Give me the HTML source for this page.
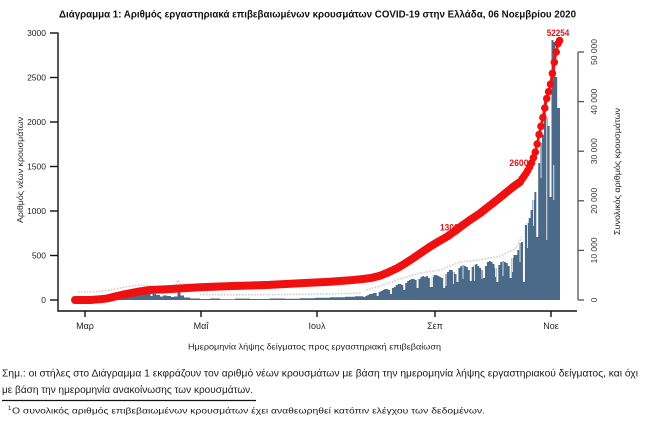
<!DOCTYPE html>
<html><head><meta charset="utf-8">
<style>
html,body{margin:0;padding:0;background:#fff;width:655px;height:426px;overflow:hidden}
svg{display:block}
text{font-family:"Liberation Sans","DejaVu Sans",sans-serif}
</style></head>
<body>
<svg width="655" height="426" viewBox="0 0 655 426" xmlns="http://www.w3.org/2000/svg">
<rect width="655" height="426" fill="#fff"/>

<!-- Title -->
<text x="59" y="17.5" font-size="10.5" font-weight="bold" fill="#111" textLength="517" lengthAdjust="spacingAndGlyphs">Διάγραμμα 1: Αριθμός εργαστηριακά επιβεβαιωμένων κρουσμάτων COVID-19 στην Ελλάδα, 06 Νοεμβρίου 2020</text>

<!-- Bars -->
<path fill="#4b6a89" d="M76.5,300 V299.5 H92 V299 H96 V298.5 H100 V297.5 H104 V298.5 H106 V296.5 H110 V295.5 H114 V294.5 H118 V296.5 H120 V293.5 H124 V293 H128 V292.5 H131 V291.5 H133 V295 H135.5 V292.5 H139 V292 H142 V294 H145 V294.5 H148 V293 H150.5 V296 H152.5 V294 H156 V295 H160 V296.5 H163 V295.5 H167 V296 H171 V297 H174 V296.5 H177.5 V287 H180.5 V295.5 H184 V297.5 H190 V298.5 H200 V299 H210 V298.5 H220 V299.2 H235 V298.6 H250 V299 H270 V298.5 H285 V298.8 H300 V298.2 H315 V297.8 H330 V297.3 H345 V296.8 H355 V296.3 H363.4
V297 H365.3 V296 H367.2 V295 H369.1 V294 H371 V294 H372.9 V293 H374.8 V293 H376.7
V296 H378.6 V292 H380.5 V291 H382.4 V290 H384.3 V289 H386.2 V289 H388.1 V290 H390
V294 H391.9 V288 H393.8 V287 H395.7 V285 H397.6 V284 H399.5 V284 H401.4 V285 H403.3
V290 H405.2 V283 H407.1 V281 H409 V280 H410.9 V279 H412.8 V279 H414.7 V280 H416.6
V288 H418.5 V279 H420.4 V277 H422.3 V276 H424.2 V277 H426.1 V276 H428 V278 H429.9
V287 H431.8 V277 H433.7 V275 H435.6 V275 H437.5 V276 H439.4 V277 H441.3 V278 H443.2
V288 H445.1 V274 H447 V272 H448.9 V270 H450.8 V270 H452.7 V272 H454.6 V274 H456.5
V282 H458.4 V268 H460.3 V266 H462.2 V265 H464.1 V266 H466 V267 H467.9 V270 H469.8
V281 H471.7 V267 H473.6 V265 H475.5 V264 H477.4 V266 H479.3 V268 H481.2 V270 H483.1
V278 H485 V266 H486.9 V262 H488.8 V261 H490.7 V262 H492.6 V264 H494.5 V268 H496.4
V282 H498.3 V265 H500.2 V262 H502.1 V261 H504 V262 H505.9 V263 H507.8 V266 H509.7
V278 H511.6 V258 H513.5 V255 H515.4 V255 H517.3 V250 H519.2 V243 H521.1 V242 H523
V282 H524.9 V225 H526.8 V223 H528.7 V218 H530.6 V210 H532.5 V200 H534.4 V192 H536.3
V237 H538.2 V163 H540.1 V143 H542 V135 H543.9 V100 H545.8 V118 H547.7 V126 H549.6
V197 H551.5 V40 H553.4 V42 H555.3 V77 H557.2 V108 H560 V300 Z"/>

<!-- white label lines inside bars -->
<g stroke="#fff" stroke-width="0.8">
<line x1="432.5" y1="277" x2="432.5" y2="287"/>
<line x1="446" y1="274" x2="446" y2="286"/>
<line x1="453.6" y1="270" x2="453.6" y2="284"/>
<line x1="463" y1="265" x2="463" y2="279"/>
<line x1="474.5" y1="265" x2="474.5" y2="281"/>
<line x1="482" y1="268" x2="482" y2="279"/>
<line x1="495.5" y1="264" x2="495.5" y2="277"/>
<line x1="503" y1="261" x2="503" y2="276"/>
<line x1="512.5" y1="258" x2="512.5" y2="272"/>
<line x1="520" y1="243" x2="520" y2="262"/>
<line x1="527.5" y1="223" x2="527.5" y2="248"/>
<line x1="533.5" y1="200" x2="533.5" y2="226"/>
<line x1="541" y1="143" x2="541" y2="178"/>
<line x1="546.8" y1="118" x2="546.8" y2="240"/>
<line x1="553.8" y1="165" x2="553.8" y2="200"/>
</g>

<!-- faint label texture above bars -->
<g fill="none" stroke="#8a8a8a" stroke-width="1.6" stroke-dasharray="1.6 1.4" opacity="0.4">
<polyline points="78,292 95,292 110,290 125,287 140,285 155,287 170,288 176,285 178,280 181,285 190,291"/>
<polyline points="200,294.5 240,294.8 300,294.3 340,293.8 362,293"/>
<polyline points="366,290 380,286 400,279 420,273 440,270 460,262 480,260 500,256 515,249 522,237"/>
</g>

<!-- cumulative red line -->
<polyline fill="none" stroke="#f01010" stroke-width="8" stroke-linecap="round" stroke-linejoin="round"
points="75,300 90,300 100,299.3 108,298.3 117,296 125,294.2 133,292.7 141,291.2 150,290 167,289.3 183,288.3 200,287.3 233,286 267,285 300,283.3 330,281.7 350,280.3 363,279 372,277.8 380,275.7 388,272.5 397,268.3 405,263.5 413,258.3 421,252.8 430,246.7 438,241.8 447,236.7 455,231 463,225 471,219.3 480,213.3 488,207 497,200 505,193.5 512.5,187.4 516.3,184.6 520.1,181.9"/>
<polyline fill="none" stroke="#f01010" stroke-width="2.6" stroke-linejoin="round"
points="512.5,187.4 514.4,185.9 516.3,184.6 518.2,183.3 520.1,181.9 522,179.1 523.9,176.4 525.8,173.7 527.7,170.6 529.6,166.8 531.5,163 533.4,157.8 535.3,152.1 537.2,144 539.1,134.6 541,126.3 542.9,117.5 544.8,108 546.7,98.5 548.6,91.7 550.5,84.2 552.4,73.4 554.3,62.2 556.2,52 558.1,43.6 559.6,40.5"/>
<g fill="#f01010">
<circle cx="512.5" cy="187.4" r="3.8"/><circle cx="514.4" cy="185.9" r="3.8"/><circle cx="516.3" cy="184.6" r="3.8"/>
<circle cx="518.2" cy="183.3" r="3.8"/><circle cx="520.1" cy="181.9" r="3.8"/><circle cx="522" cy="179.1" r="3.8"/>
<circle cx="523.9" cy="176.4" r="3.8"/><circle cx="525.8" cy="173.7" r="3.8"/><circle cx="527.7" cy="170.6" r="3.8"/>
<circle cx="529.6" cy="166.8" r="3.8"/><circle cx="531.5" cy="163" r="3.8"/><circle cx="533.4" cy="157.8" r="3.8"/>
<circle cx="535.3" cy="152.1" r="3.8"/><circle cx="537.2" cy="144" r="3.8"/><circle cx="539.1" cy="134.6" r="3.8"/>
<circle cx="541" cy="126.3" r="3.8"/><circle cx="542.9" cy="117.5" r="3.8"/><circle cx="544.8" cy="108" r="3.8"/>
<circle cx="546.7" cy="98.5" r="3.8"/><circle cx="548.6" cy="91.7" r="3.8"/><circle cx="550.5" cy="84.2" r="3.8"/>
<circle cx="552.4" cy="73.4" r="3.8"/><circle cx="554.3" cy="62.2" r="3.8"/><circle cx="556.2" cy="52" r="3.8"/>
<circle cx="558.1" cy="43.6" r="3.8"/><circle cx="559.6" cy="40.5" r="3.8"/>
</g>

<!-- red value labels -->
<g fill="#e01515" font-size="9" font-weight="bold">
<text x="546.7" y="36" textLength="22.6" lengthAdjust="spacingAndGlyphs">52254</text>
<text x="509.3" y="166" textLength="24" lengthAdjust="spacingAndGlyphs">26008</text>
<text x="440" y="230.5" textLength="23.3" lengthAdjust="spacingAndGlyphs">13088</text>
</g>

<!-- Left axis -->
<g stroke="#111" stroke-width="1.4">
<line x1="58" y1="32.5" x2="58" y2="311"/>
<line x1="57.3" y1="311" x2="577" y2="311"/>
<line x1="50" y1="300" x2="58" y2="300"/>
<line x1="50" y1="255.5" x2="58" y2="255.5"/>
<line x1="50" y1="211" x2="58" y2="211"/>
<line x1="50" y1="166.5" x2="58" y2="166.5"/>
<line x1="50" y1="122" x2="58" y2="122"/>
<line x1="50" y1="77.5" x2="58" y2="77.5"/>
<line x1="50" y1="33" x2="58" y2="33"/>
<line x1="85" y1="311" x2="85" y2="317"/>
<line x1="201" y1="311" x2="201" y2="317"/>
<line x1="317" y1="311" x2="317" y2="317"/>
<line x1="435" y1="311" x2="435" y2="317"/>
<line x1="551" y1="311" x2="551" y2="317"/>
</g>
<g font-size="8.5" fill="#222" text-anchor="end">
<text x="46" y="303">0</text>
<text x="46" y="258.5">500</text>
<text x="46" y="214">1000</text>
<text x="46" y="169.5">1500</text>
<text x="46" y="125">2000</text>
<text x="46" y="80.5">2500</text>
<text x="46" y="36">3000</text>
</g>
<g font-size="9" fill="#222" text-anchor="middle">
<text x="85" y="329">Μαρ</text>
<text x="201" y="329">Μαΐ</text>
<text x="317" y="329">Ιουλ</text>
<text x="435" y="329">Σεπ</text>
<text x="551" y="329">Νοε</text>
</g>
<text x="188" y="349.5" font-size="8.5" fill="#222" textLength="253" lengthAdjust="spacingAndGlyphs">Ημερομηνία λήψης δείγματος προς εργαστηριακή επιβεβαίωση</text>
<text transform="translate(23,223) rotate(-90)" x="0" y="0" font-size="8.5" fill="#222" textLength="106" lengthAdjust="spacingAndGlyphs">Αριθμός νέων κρουσμάτων</text>

<!-- Right axis -->
<g stroke="#555" stroke-width="1.3">
<line x1="578" y1="52" x2="578" y2="300"/>
<line x1="578" y1="300" x2="584" y2="300"/>
<line x1="578" y1="250.4" x2="584" y2="250.4"/>
<line x1="578" y1="200.8" x2="584" y2="200.8"/>
<line x1="578" y1="151.2" x2="584" y2="151.2"/>
<line x1="578" y1="101.6" x2="584" y2="101.6"/>
<line x1="578" y1="52" x2="584" y2="52"/>
</g>
<g font-size="8.5" fill="#333" text-anchor="middle">
<text transform="translate(597,300) rotate(-90)">0</text>
<text transform="translate(597,250.4) rotate(-90)">10 000</text>
<text transform="translate(597,200.8) rotate(-90)">20 000</text>
<text transform="translate(597,151.2) rotate(-90)">30 000</text>
<text transform="translate(597,101.6) rotate(-90)">40 000</text>
<text transform="translate(597,52) rotate(-90)">50 000</text>
</g>
<text transform="translate(620,235) rotate(-90)" x="0" y="0" font-size="8.5" fill="#222" textLength="127" lengthAdjust="spacingAndGlyphs">Συνολικός αριθμός κρουσμάτων</text>

<!-- Notes -->
<text x="2" y="376.5" font-size="10" fill="#1a1a1a" textLength="636" lengthAdjust="spacingAndGlyphs">Σημ.: οι στήλες στο Διάγραμμα 1 εκφράζουν τον αριθμό νέων κρουσμάτων με βάση την ημερομηνία λήψης εργαστηριακού δείγματος, και όχι</text>
<text x="2" y="393" font-size="10" fill="#1a1a1a" textLength="251" lengthAdjust="spacingAndGlyphs">με βάση την ημερομηνία ανακοίνωσης των κρουσμάτων.</text>
<line x1="2" y1="400.5" x2="256" y2="400.5" stroke="#111" stroke-width="1.2"/>
<text x="8" y="410" font-size="6" fill="#1a1a1a">1</text>
<text x="12" y="413.5" font-size="8.5" fill="#1a1a1a" textLength="473" lengthAdjust="spacingAndGlyphs">Ο συνολικός αριθμός επιβεβαιωμένων κρουσμάτων έχει αναθεωρηθεί κατόπιν ελέγχου των δεδομένων.</text>
</svg>
</body></html>
